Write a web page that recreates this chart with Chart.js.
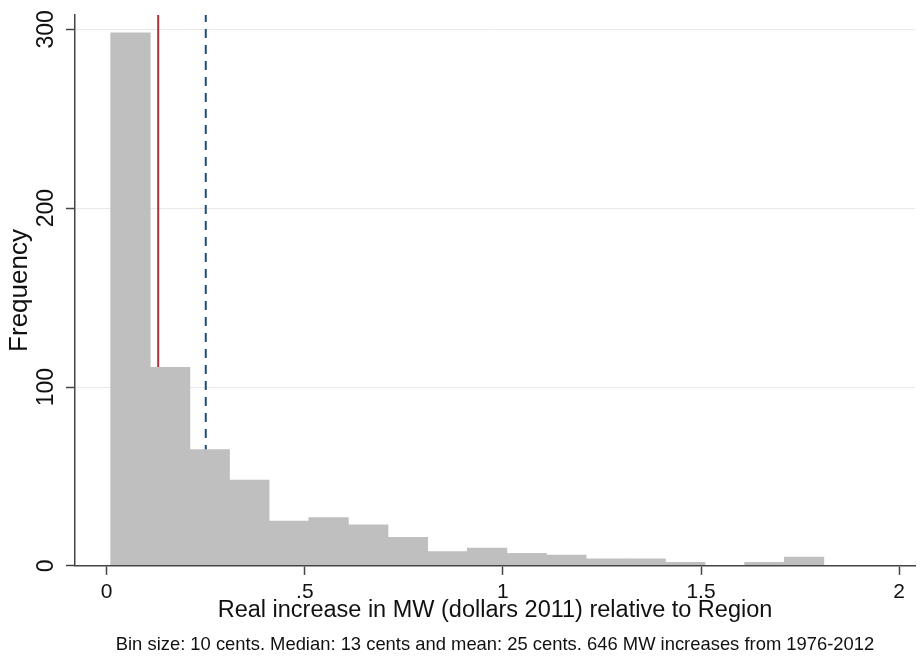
<!DOCTYPE html>
<html>
<head>
<meta charset="utf-8">
<script src="https://cdn.jsdelivr.net/npm/chart.js@4.4.1/dist/chart.umd.min.js"></script>
<style>
    body { margin: 0; background: #fff; }
    #chart { display: block; }
</style>
</head>
<body>
<canvas id="chart" width="920" height="662"></canvas>
<script>
// histogram bins (left edge of each 10 cent bin) and counts
const binStarts = [0.01, 0.11, 0.21, 0.31, 0.41, 0.51, 0.61, 0.71, 0.81, 0.91, 1.01, 1.11, 1.21, 1.31, 1.41, 1.51, 1.61, 1.71];
const frequencies = [298, 111, 65, 48, 25, 27, 23, 16, 8, 10, 7, 6, 4, 4, 2, 0, 2, 5];
const binWidth = 0.1;

const medianValue = 0.13;
const meanValue = 0.25;

const xTickValues = [0, 0.5, 1, 1.5, 2];
const xTickLabels = ["0", ".5", "1", "1.5", "2"];
const yTickValues = [0, 100, 200, 300];
const yTickLabels = ["0", "100", "200", "300"];

const xMin = -0.08;
const xMax = 2.04;
const yMax = 308;

const fontFamily = "'Liberation Sans', Arial, Helvetica, sans-serif";
const axisColor = "#444";

const barData = binStarts.map((start, i) => ({ x: start + binWidth / 2, y: frequencies[i] }));

const ctx = document.getElementById("chart").getContext("2d");

new Chart(ctx, {
    type: "bar",
    data: {
        datasets: [
            {
                label: "Frequency",
                data: barData,
                backgroundColor: "#bfbfbf",
                borderWidth: 0,
                barPercentage: 1,
                categoryPercentage: 1,
                order: 1
            },
            {
                type: "line",
                label: "Median",
                data: [{ x: medianValue, y: 0 }, { x: medianValue, y: yMax }],
                borderColor: "#a8323e",
                borderWidth: 2,
                pointRadius: 0,
                order: 2
            },
            {
                type: "line",
                label: "Mean",
                data: [{ x: meanValue, y: 0 }, { x: meanValue, y: yMax }],
                borderColor: "#1f4e79",
                borderWidth: 2,
                borderDash: [9, 7],
                pointRadius: 0,
                order: 3
            }
        ]
    },
    options: {
        responsive: false,
        animation: false,
        layout: { padding: { top: 15, right: 5, left: 0, bottom: 6 } },
        plugins: {
            legend: { display: false },
            tooltip: { enabled: false },
            title: {
                display: true,
                position: "bottom",
                fullSize: false,
                text: "Bin size: 10 cents. Median: 13 cents and mean: 25 cents. 646 MW increases from 1976-2012",
                color: "#111",
                font: { family: fontFamily, size: 18.4, weight: "normal" },
                padding: { top: 0, bottom: 0 }
            }
        },
        scales: {
            x: {
                type: "linear",
                min: xMin,
                max: xMax,
                offset: false,
                afterBuildTicks: scale => {
                    scale.ticks = xTickValues.map(v => ({ value: v }));
                },
                afterFit: scale => { scale.height = 68; },
                ticks: {
                    includeBounds: false,
                    padding: 5,
                    color: "#111",
                    font: { family: fontFamily, size: 21 },
                    callback: (value, index) => xTickLabels[index]
                },
                grid: {
                    offset: false,
                    drawOnChartArea: false,
                    drawTicks: true,
                    tickLength: 9,
                    tickColor: axisColor,
                    tickWidth: 1.5
                },
                border: { display: true, color: axisColor, width: 1.5, z: 1 },
                title: {
                    display: true,
                    text: "Real increase in MW (dollars 2011) relative to Region",
                    color: "#111",
                    font: { family: fontFamily, size: 23.5 },
                    padding: { top: 0, bottom: 9 }
                }
            },
            y: {
                min: 0,
                max: yMax,
                afterBuildTicks: scale => {
                    scale.ticks = yTickValues.map(v => ({ value: v }));
                },
                afterFit: scale => { scale.width = 75; },
                ticks: {
                    includeBounds: false,
                    minRotation: 90,
                    maxRotation: 90,
                    crossAlign: "center",
                    padding: 0,
                    color: "#111",
                    font: { family: fontFamily, size: 23 },
                    callback: (value, index) => yTickLabels[index]
                },
                grid: {
                    color: c => (c.tick && c.tick.value === 0) ? "rgba(0,0,0,0)" : "#e9e9e9",
                    lineWidth: 1,
                    drawTicks: true,
                    tickLength: 9,
                    tickColor: axisColor,
                    tickWidth: 1.5
                },
                border: { display: true, color: axisColor, width: 1.5, z: 1 },
                title: {
                    display: true,
                    text: "Frequency",
                    color: "#111",
                    font: { family: fontFamily, size: 26 },
                    padding: { top: 4, bottom: 0 }
                }
            }
        }
    }
});
</script>
</body>
</html>
